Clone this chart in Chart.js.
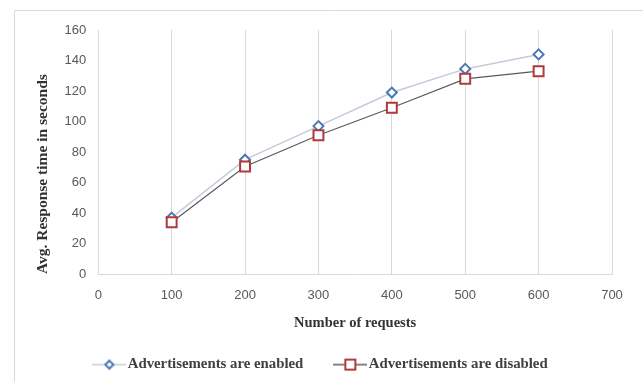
<!DOCTYPE html>
<html>
<head>
<meta charset="utf-8">
<script src="https://cdn.jsdelivr.net/npm/chart.js@4/dist/chart.umd.min.js"></script>
<style>
html,body{margin:0;padding:0;background:#fff;}
#wrap{width:643px;height:382px;position:relative;}
</style>
</head>
<body>
<div id="wrap"><canvas id="c" width="643" height="382"></canvas></div>
<script>
// Data
const requests = [100, 200, 300, 400, 500, 600];
const adsEnabled = [37, 75, 97, 119, 134.5, 144];
const adsDisabled = [34, 70.5, 91, 109, 128, 133];
const seriesNames = ['Advertisements are enabled', 'Advertisements are disabled'];
const xAxisTitle = 'Number of requests';
const yAxisTitle = 'Avg. Response time in seconds';

const BLUE = '#4a78b4';
const BLUE_LINE = '#c3cbdb';
const RED = '#b0393b';
const DARK_LINE = '#5a5a5a';
const GRID = '#d9d9d9';

function legendIcon(lineColor, markColor, shape) {
  const cv = document.createElement('canvas');
  cv.width = 34; cv.height = 14;
  const g = cv.getContext('2d');
  g.strokeStyle = lineColor; g.lineWidth = 1.5;
  g.beginPath(); g.moveTo(0, 7); g.lineTo(34, 7); g.stroke();
  g.fillStyle = '#fff'; g.strokeStyle = markColor; g.lineWidth = 2;
  g.beginPath();
  if (shape === 'diamond') {
    g.moveTo(17, 3); g.lineTo(21, 7); g.lineTo(17, 11); g.lineTo(13, 7); g.closePath();
  } else {
    g.rect(12, 2, 10, 10);
  }
  g.fill(); g.stroke();
  return cv;
}
const icons = [legendIcon(BLUE_LINE, BLUE, 'diamond'), legendIcon(DARK_LINE, RED, 'square')];

const frame = {
  id: 'frame',
  beforeDraw(chart) {
    const ctx = chart.ctx;
    ctx.save();
    ctx.strokeStyle = GRID; ctx.lineWidth = 1;
    ctx.beginPath();
    ctx.moveTo(14.5, 382); ctx.lineTo(14.5, 10.5); ctx.lineTo(643, 10.5);
    ctx.stroke();
    ctx.restore();
  }
};

new Chart(document.getElementById('c'), {
  type: 'line',
  data: {
    datasets: [
      {
        label: seriesNames[0],
        data: requests.map((x, i) => ({x: x, y: adsEnabled[i]})),
        borderColor: BLUE_LINE,
        borderWidth: 1.5,
        pointStyle: 'rectRot',
        pointRadius: 5,
        pointBorderColor: BLUE,
        pointBackgroundColor: '#fff',
        pointBorderWidth: 2,
        order: 1
      },
      {
        label: seriesNames[1],
        data: requests.map((x, i) => ({x: x, y: adsDisabled[i]})),
        borderColor: DARK_LINE,
        borderWidth: 1.2,
        pointStyle: 'rect',
        pointRadius: 7,
        pointBorderColor: RED,
        pointBackgroundColor: '#fff',
        pointBorderWidth: 2,
        order: 0
      }
    ]
  },
  options: {
    responsive: false,
    animation: false,
    devicePixelRatio: 1,
    layout: {padding: {left: 34, right: 31, top: 30, bottom: 0}},
    scales: {
      x: {
        type: 'linear',
        min: 0, max: 700,
        ticks: {stepSize: 100, color: '#595959', font: {family: 'Liberation Sans', size: 13}, padding: 14},
        grid: {color: GRID, drawTicks: false},
        border: {color: GRID},
        title: {display: true, text: xAxisTitle, color: '#333', font: {family: 'Liberation Serif', size: 14.5, weight: 'bold', lineHeight: 1}, padding: {top: -2, bottom: -9}}
      },
      y: {
        min: 0, max: 160,
        ticks: {stepSize: 20, color: '#595959', font: {family: 'Liberation Sans', size: 13}, padding: 12},
        grid: {display: false, drawTicks: false},
        border: {color: GRID},
        title: {display: true, align: 'start', text: yAxisTitle, color: '#333', font: {family: 'Liberation Serif', size: 15.5, weight: 'bold'}, padding: {top: 0, bottom: 0}}
      }
    },
    plugins: {
      legend: {
        position: 'bottom',
        labels: {
          usePointStyle: true,
          pointStyleWidth: 22,
          padding: 36,
          color: '#404040',
          font: {family: 'Liberation Serif', size: 14.8, weight: 'bold'},
          sort: (a, b) => a.datasetIndex - b.datasetIndex,
          generateLabels(chart) {
            const items = Chart.defaults.plugins.legend.labels.generateLabels(chart);
            items.forEach(it => { it.pointStyle = icons[it.datasetIndex]; });
            return items;
          }
        }
      },
      tooltip: {enabled: false}
    }
  },
  plugins: [frame]
});
</script>
</body>
</html>
